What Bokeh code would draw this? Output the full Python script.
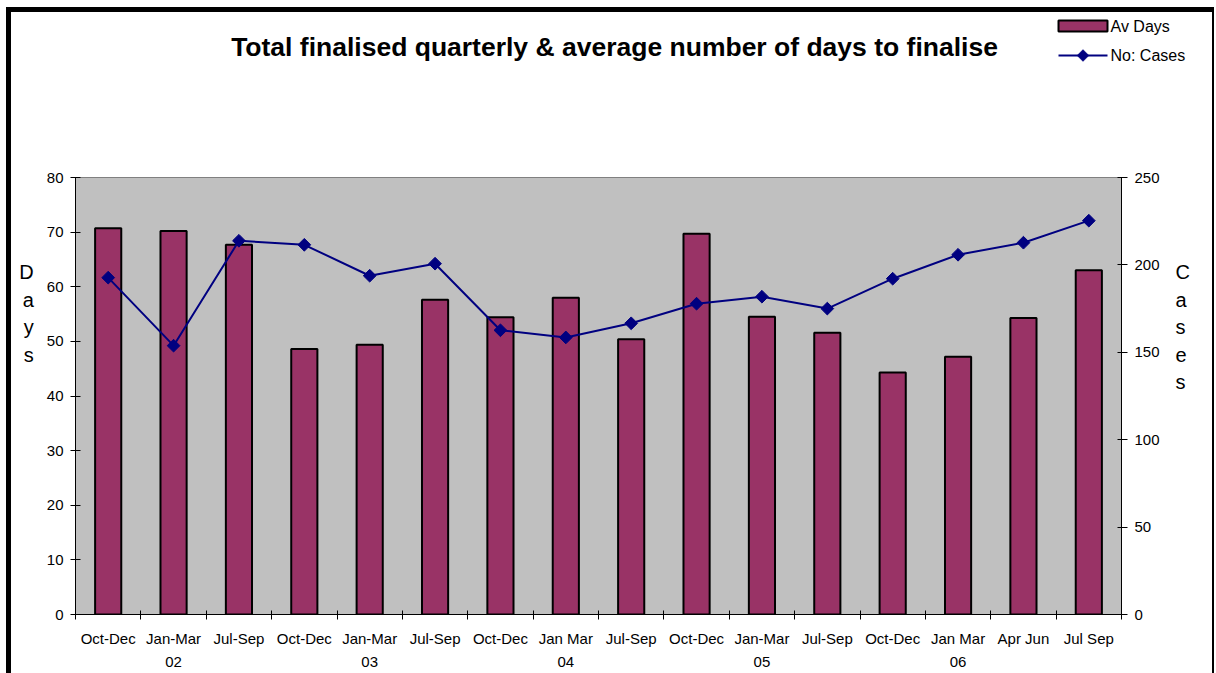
from bokeh.plotting import figure
from bokeh.layouts import column
from bokeh.models import (Range1d, LinearAxis, FixedTicker, Label, BoxAnnotation, PolyAnnotation)
from bokeh.embed import file_html
from bokeh.resources import INLINE
import numpy as np

quarters = ["Oct-Dec", "Jan-Mar", "Jul-Sep", "Oct-Dec", "Jan-Mar", "Jul-Sep",
            "Oct-Dec", "Jan Mar", "Jul-Sep", "Oct-Dec", "Jan-Mar", "Jul-Sep",
            "Oct-Dec", "Jan Mar", "Apr Jun", "Jul Sep"]
years = ["", "02", "", "", "03", "", "", "04", "", "", "05", "", "", "06", "", ""]
av_days = [70.7, 70.2, 67.7, 48.6, 49.4, 57.6, 54.4, 58.0, 50.4, 69.7,
           54.5, 51.6, 44.3, 47.2, 54.3, 63.0]
no_cases = [192.7, 153.8, 213.8, 211.5, 193.8, 200.7, 162.6, 158.5, 166.6, 177.8,
            181.8, 175.0, 192.1, 205.8, 212.7, 225.3]
days_ticks = [0, 10, 20, 30, 40, 50, 60, 70, 80]
cases_ticks = [0, 50, 100, 150, 200, 250]
series_names = ["Av Days", "No: Cases"]
title_text = "Total finalised quarterly & average number of days to finalise"

FONT = "Liberation Sans"
BAR_FILL = "#993366"
LINE_COL = "#000080"
n = len(quarters)
xc = [i + 0.5 for i in range(n)]

# ---------- header strip: title + key ----------
head = figure(frame_width=1201, frame_height=56, x_range=Range1d(0, 1), y_range=Range1d(0, 1),
              output_backend="svg", toolbar_location=None, title_location=None,
              min_border_left=0, min_border_right=0, min_border_top=0, min_border_bottom=32,
              x_axis_location=None, y_axis_location=None)
head.outline_line_color = None
head.background_fill_color = "white"
head.border_fill_color = "white"
head.xgrid.visible = False
head.ygrid.visible = False
head.add_layout(Label(x=539, y=22, x_units="screen", y_units="screen", text=title_text,
                      text_align="center", text_baseline="middle", text_font=FONT,
                      text_font_size="26.5px", text_font_style="bold", text_color="black"))

# key (screen units relative to the header frame)
KX, KW = 983, 49
head.add_layout(BoxAnnotation(left=KX, right=KX + KW, top=48, bottom=37,
                              left_units="screen", right_units="screen",
                              top_units="screen", bottom_units="screen",
                              fill_color=BAR_FILL, fill_alpha=1.0,
                              line_color="black", line_width=2, line_alpha=1.0))
head.add_layout(BoxAnnotation(left=KX, right=KX + KW, top=14, bottom=12,
                              left_units="screen", right_units="screen",
                              top_units="screen", bottom_units="screen",
                              fill_color=LINE_COL, fill_alpha=1.0, line_color=None))
cx, cy, r = KX + KW / 2, 13, 6
head.add_layout(PolyAnnotation(xs=[cx - r, cx, cx + r, cx], ys=[cy, cy + r, cy, cy - r],
                               xs_units="screen", ys_units="screen",
                               fill_color=LINE_COL, fill_alpha=1.0, line_color=LINE_COL))
for name, yy in zip(series_names, [42, 13]):
    head.add_layout(Label(x=KX + KW + 3, y=yy, x_units="screen", y_units="screen", text=name,
                          text_align="left", text_baseline="middle", text_font=FONT,
                          text_font_size="16px", text_color="black"))

# ---------- main chart ----------
p = figure(frame_width=1046, frame_height=437,
           x_range=Range1d(0, n), y_range=Range1d(0, 80),
           output_backend="svg", toolbar_location=None, title_location=None,
           min_border_left=64, min_border_right=91,
           min_border_top=77, min_border_bottom=57,
           x_axis_location=None, y_axis_location=None)
p.background_fill_color = "#C0C0C0"
p.border_fill_color = "white"
p.outline_line_color = "#808080"
p.xgrid.visible = False
p.ygrid.visible = False
p.extra_y_ranges = {"cases": Range1d(0, 250)}

yl = LinearAxis(ticker=FixedTicker(ticks=days_ticks, minor_ticks=[]))
yl.axis_line_color = "black"
yl.major_tick_in = 5
yl.major_tick_out = 5
yl.major_label_standoff = 7
yl.major_label_text_font = FONT
yl.major_label_text_font_size = "15px"
yl.major_label_text_color = "black"
yl.axis_label = "\n".join(list("Days") + [" "] * 6)
yl.axis_label_orientation = "horizontal"
yl.axis_label_text_align = "center"
yl.axis_label_standoff = 10
yl.axis_label_text_font = FONT
yl.axis_label_text_font_size = "20px"
yl.axis_label_text_font_style = "normal"
yl.axis_label_text_line_height = 1.25
yl.axis_label_text_color = "black"
p.add_layout(yl, "left")

yr = LinearAxis(y_range_name="cases", ticker=FixedTicker(ticks=cases_ticks, minor_ticks=[]))
yr.axis_line_color = "black"
yr.major_tick_in = 4
yr.major_tick_out = 6
yr.major_label_standoff = 7
yr.major_label_text_font = FONT
yr.major_label_text_font_size = "15px"
yr.major_label_text_color = "black"
yr.axis_label = "\n".join(list("Cases") + [" "] * 5)
yr.axis_label_orientation = "horizontal"
yr.axis_label_text_align = "center"
yr.axis_label_standoff = 13
yr.axis_label_text_font = FONT
yr.axis_label_text_font_size = "20px"
yr.axis_label_text_font_style = "normal"
yr.axis_label_text_line_height = 1.25
yr.axis_label_text_color = "black"
p.add_layout(yr, "right")

xa = LinearAxis(ticker=FixedTicker(ticks=xc, minor_ticks=list(range(n + 1))))
xa.major_label_overrides = {x: (q + "\n" + y if y else q) for x, q, y in zip(xc, quarters, years)}
xa.axis_line_color = "black"
xa.major_tick_line_color = None
xa.major_tick_in = 0
xa.major_tick_out = 5
xa.minor_tick_line_color = "black"
xa.minor_tick_in = 4
xa.minor_tick_out = 5
xa.major_label_standoff = 10
xa.major_label_text_font = FONT
xa.major_label_text_font_size = "15px"
xa.major_label_text_color = "black"
xa.major_label_text_line_height = 1.4
p.add_layout(xa, "below")

p.vbar(x=xc, top=av_days, width=0.4, fill_color=BAR_FILL, line_color="black", line_width=2)
p.line(x=xc, y=no_cases, y_range_name="cases", line_color=LINE_COL, line_width=2)
p.scatter(x=xc, y=no_cases, y_range_name="cases", marker="square",
          angle=np.pi / 4, size=9, fill_color=LINE_COL, line_color=LINE_COL)

layout = column(head, p, spacing=0)
layout.styles = {"margin-left": "6px", "margin-top": "7px",
                 "border-left": "5px solid black", "border-top": "5px solid black",
                 "border-right": "2px solid black", "border-bottom": "2px solid black"}

open("out.html", "w").write(file_html(layout, INLINE))
